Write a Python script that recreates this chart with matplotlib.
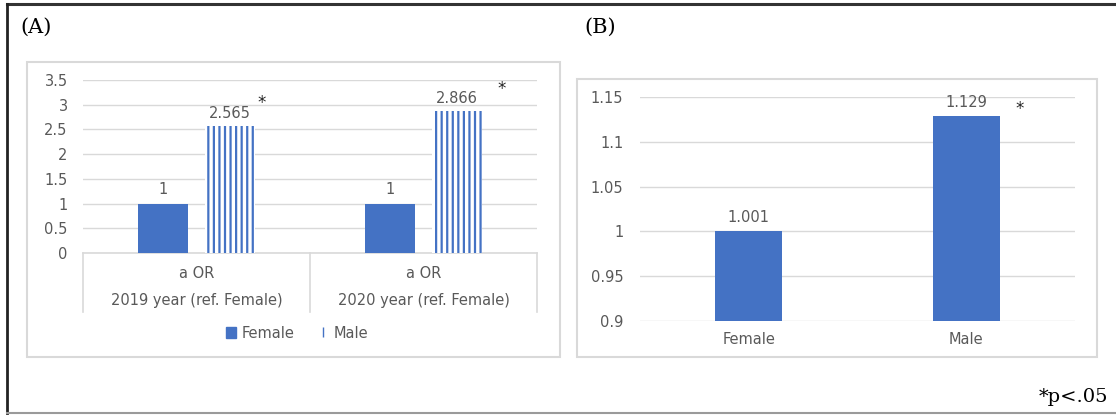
import matplotlib
matplotlib.use("Agg")
import matplotlib.pyplot as plt
import matplotlib.patches as mpatches
from matplotlib.lines import Line2D
import matplotlib.transforms as mtransforms

# ---- data ----
years = ["2019 year (ref. Female)", "2020 year (ref. Female)"]
measure = "a OR"
female_or_by_year = [1.0, 1.0]
male_or_by_year = [2.565, 2.866]
female_label_text = ["1", "1"]
male_label_text = ["2.565", "2.866"]

sex_groups = ["Female", "Male"]
pooled_or = [1.001, 1.129]
pooled_label_text = ["1.001", "1.129"]

a_ticks = [0, 0.5, 1, 1.5, 2, 2.5, 3, 3.5]
a_tick_labels = ["0", "0.5", "1", "1.5", "2", "2.5", "3", "3.5"]
b_ticks = [0.9, 0.95, 1.0, 1.05, 1.1, 1.15]
b_tick_labels = ["0.9", "0.95", "1", "1.05", "1.1", "1.15"]

# ---- style ----
BLUE = "#4472C4"
GRID = "#D9D9D9"
TXT = "#595959"
SANS = ["DejaVu Sans"]
SERIF = ["DejaVu Serif"]
FS = 10.5
plt.rcParams["font.family"] = SANS
plt.rcParams["hatch.linewidth"] = 1.6

W, H = 1116, 415
fig = plt.figure(figsize=(W / 100, H / 100), dpi=100)


def fig_rect(x0, y0, x1, y1):
    """pixel box (top-left origin) -> figure fraction [l, b, w, h]"""
    return [x0 / W, 1 - y1 / H, (x1 - x0) / W, (y1 - y0) / H]


# outer frame
fig.add_artist(Line2D([7 / W, 1], [1 - 4 / H] * 2, color="#333333", lw=2.2,
                      transform=fig.transFigure))
fig.add_artist(Line2D([7 / W] * 2, [1 - 4 / H, 1 - 413 / H], color="#222222", lw=2.0,
                      transform=fig.transFigure))
fig.add_artist(Line2D([7 / W, 1], [1 - 413 / H] * 2, color="#9a9a9a", lw=1.5,
                      transform=fig.transFigure))

# panel boxes
for (x0, y0, x1, y1) in [(27, 62, 560, 357), (577, 79, 1097, 357)]:
    l, b, w, h = fig_rect(x0, y0, x1, y1)
    fig.add_artist(mpatches.Rectangle((l, b), w, h, transform=fig.transFigure,
                                      fill=False, edgecolor=GRID, lw=1.5))

fig.text(20 / W, 1 - 27 / H, "(A)", family=SERIF, fontsize=15, va="center", ha="left")
fig.text(584 / W, 1 - 27 / H, "(B)", family=SERIF, fontsize=15, va="center", ha="left")
fig.text(1108 / W, 1 - 397 / H, "*p<.05", family=SERIF, fontsize=14, va="center", ha="right")

# ---- panel A ----
axA = fig.add_axes(fig_rect(83, 80, 537, 253))
xs = range(len(years))
w = 0.22
off = 0.147
barsF = axA.bar([x - off for x in xs], female_or_by_year, width=w, color=BLUE,
                label="Female", zorder=3)
barsM = axA.bar([x + off for x in xs], male_or_by_year, width=w, facecolor="white",
                edgecolor=BLUE, hatch="|||", linewidth=0, label="Male", zorder=3)
axA.set_xlim(-0.5, 1.5)
axA.set_ylim(0, 3.5)
axA.set_yticks(a_ticks, labels=a_tick_labels)
axA.set_xticks(list(xs), labels=[f"{measure}\n{y}" for y in years], linespacing=2.0)
axA.grid(axis="y", color=GRID, lw=1.0, zorder=0)
axA.set_axisbelow(True)
for s in ["top", "right", "left"]:
    axA.spines[s].set_visible(False)
axA.spines["bottom"].set_color(GRID)
axA.spines["bottom"].set_linewidth(1.2)
axA.tick_params(axis="y", length=0, pad=11, labelsize=FS, labelcolor=TXT)
axA.tick_params(axis="x", length=0, pad=9, labelsize=FS, labelcolor=TXT)

# category separators below the axis
trA = mtransforms.blended_transform_factory(axA.transData, axA.transAxes)
for xb in [-0.5, 0.5, 1.5]:
    axA.add_line(Line2D([xb, xb], [0, -59 / 173], color=GRID, lw=1.2,
                        transform=trA, clip_on=False))

for rect, txt in zip(barsF, female_label_text):
    axA.annotate(txt, (rect.get_x() + rect.get_width() / 2, rect.get_height()),
                 xytext=(0, 5), textcoords="offset points", ha="center", va="bottom",
                 fontsize=FS, color=TXT)
for rect, txt in zip(barsM, male_label_text):
    axA.annotate(txt, (rect.get_x() + rect.get_width() / 2, rect.get_height()),
                 xytext=(0, 4), textcoords="offset points", ha="center", va="bottom",
                 fontsize=FS, color=TXT)
# significance marks
for rect, (dx, dy) in zip(barsM, [(2, 17), (11, 16)]):
    axA.annotate("*", (rect.get_x() + rect.get_width(), rect.get_height()),
                 xytext=(dx, dy), textcoords="offset points", ha="left", va="center",
                 fontsize=12, color="#222222")

handles = [mpatches.Patch(color=BLUE),
           Line2D([], [], marker="|", ls="none", color=BLUE, markersize=7, mew=1.0)]
fig.legend(handles, sex_groups, loc="center", bbox_to_anchor=(297 / W, 1 - 333 / H),
           ncol=2, frameon=False, fontsize=FS, labelcolor=TXT, handlelength=0.7,
           handleheight=0.7, handletextpad=0.4, columnspacing=1.6)

# ---- panel B ----
axB = fig.add_axes(fig_rect(640, 97, 1075, 321))
xb_pos = range(len(sex_groups))
barsB = axB.bar(list(xb_pos), pooled_or, width=0.31, color=BLUE, zorder=3)
axB.set_xlim(-0.5, 1.5)
axB.set_ylim(0.9, 1.15)
axB.set_yticks(b_ticks, labels=b_tick_labels)
axB.set_xticks(list(xb_pos), labels=sex_groups)
axB.grid(axis="y", color=GRID, lw=1.0, zorder=0)
axB.set_axisbelow(True)
for s in axB.spines.values():
    s.set_visible(False)
axB.tick_params(axis="y", length=0, pad=12, labelsize=FS, labelcolor=TXT)
axB.tick_params(axis="x", length=0, pad=8, labelsize=FS, labelcolor=TXT)

for rect, txt in zip(barsB, pooled_label_text):
    axB.annotate(txt, (rect.get_x() + rect.get_width() / 2, rect.get_height()),
                 xytext=(0, 4), textcoords="offset points", ha="center", va="bottom",
                 fontsize=FS, color=TXT)
rect = barsB[1]
axB.annotate("*", (rect.get_x() + rect.get_width(), rect.get_height()),
             xytext=(11, 5), textcoords="offset points", ha="left", va="center",
             fontsize=12, color="#222222")

fig.savefig("out.png", dpi=100, facecolor="white")
